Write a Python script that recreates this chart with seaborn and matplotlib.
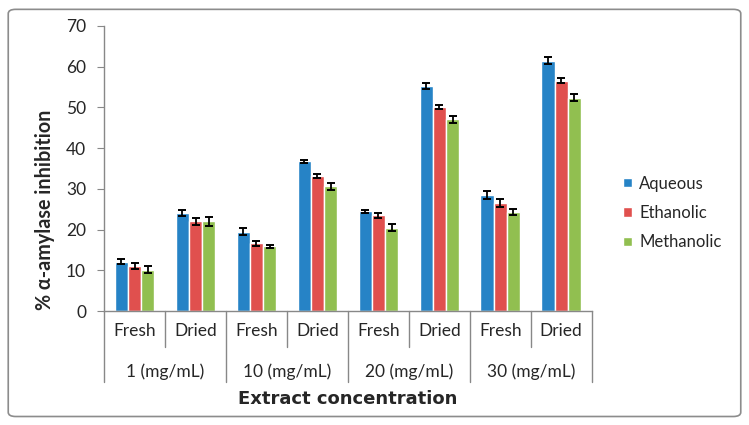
import numpy as np
import pandas as pd
import seaborn as sns
import matplotlib
matplotlib.use("Agg")
import matplotlib.pyplot as plt
from matplotlib.patches import FancyBboxPatch

# data
concentrations = ["1 (mg/mL)", "10 (mg/mL)", "20 (mg/mL)", "30 (mg/mL)"]
states = ["Fresh", "Dried"]
solvents = ["Aqueous", "Ethanolic", "Methanolic"]

aqueous = [12.1, 24.0, 19.5, 36.8, 24.5, 55.3, 28.5, 61.5]
ethanolic = [11.1, 22.0, 16.6, 33.1, 23.5, 50.1, 26.6, 56.6]
methanolic = [10.2, 22.0, 15.9, 30.6, 20.5, 47.1, 24.3, 52.4]

aqueous_err = [0.6, 0.7, 0.8, 0.4, 0.3, 0.7, 0.9, 0.8]
ethanolic_err = [0.7, 0.9, 0.5, 0.5, 0.6, 0.5, 1.0, 0.6]
methanolic_err = [0.9, 1.0, 0.4, 0.8, 0.9, 0.9, 0.7, 0.8]

colors = ["#2683C6", "#E0504E", "#91BF50"]

# long-form table
cats = [f"{c}|{s}" for c in concentrations for s in states]
rows = []
for solvent, vals, errs in zip(solvents,
                               [aqueous, ethanolic, methanolic],
                               [aqueous_err, ethanolic_err, methanolic_err]):
    for cat, v, e in zip(cats, vals, errs):
        rows.append({"cat": cat, "solvent": solvent, "value": v, "err": e})
df = pd.DataFrame(rows)

sns.set_style("white")
plt.rcParams["font.family"] = ["Lato", "DejaVu Sans"]

fig = plt.figure(figsize=(7.49, 4.25), dpi=100)
ax = fig.add_axes([0.139, 0.268, 0.651, 0.671])

sns.barplot(data=df, x="cat", y="value", hue="solvent", order=cats,
            hue_order=solvents, palette=colors, width=0.65, errorbar=None,
            saturation=1, ax=ax)

# error bars on top of each bar
for container, solvent in zip(ax.containers, solvents):
    sub = df[df["solvent"] == solvent].set_index("cat").loc[cats]
    xs = [p.get_x() + p.get_width() / 2 for p in container.patches]
    ax.errorbar(xs, sub["value"], yerr=sub["err"], fmt="none",
                ecolor="black", elinewidth=1.3, capsize=3, capthick=1.4)

ax.set_ylim(0, 70)
ax.set_yticks(range(0, 71, 10))
ax.set_xlim(-0.5, len(cats) - 0.5)
ax.tick_params(axis="y", labelsize=12.5, length=5, color="#888888",
               direction="out", left=True, pad=8)
ax.tick_params(axis="x", length=0, labelsize=12.5, pad=14)
ax.set_xticks(range(len(cats)))
ax.set_xticklabels([c.split("|")[1] for c in cats])
for lab in ax.get_xticklabels():
    lab.set_verticalalignment("center")

for side in ["top", "right"]:
    ax.spines[side].set_visible(False)
for side in ["left", "bottom"]:
    ax.spines[side].set_color("#888888")
    ax.spines[side].set_linewidth(1.0)

# two level category axis
trans = ax.get_xaxis_transform()
for i in range(len(cats) + 1):
    edge = i - 0.5
    depth = -0.25 if i % 2 == 0 else -0.126
    ax.plot([edge, edge], [0, depth], transform=trans, color="#888888",
            lw=1.0, clip_on=False)
for j, conc in enumerate(concentrations):
    ax.text(2 * j + 0.5, -0.214, conc, transform=trans, ha="center",
            va="center", fontsize=12.5)

ax.set_xlabel("Extract concentration", fontsize=13, fontweight="bold",
              family="DejaVu Sans", va="center")
ax.xaxis.set_label_coords(0.5, -0.309)
ax.set_ylabel("% α-amylase inhibition", fontsize=14.2, fontweight="bold",
              family=["Lato", "DejaVu Sans"])
ax.yaxis.set_label_coords(-0.1, 0.354)

leg = ax.legend(title=None, frameon=False, fontsize=12,
                loc="center left", bbox_to_anchor=(0.832, 0.499),
                bbox_transform=fig.transFigure, borderpad=0,
                borderaxespad=0, handlelength=0.5, handleheight=0.5,
                handletextpad=0.45, labelspacing=0.8)

# rounded frame around the whole chart
frame = FancyBboxPatch((0.011, 0.02), 0.978, 0.958,
                       boxstyle="round,pad=0,rounding_size=0.01",
                       transform=fig.transFigure, fill=False,
                       edgecolor="#8C8C8C", lw=1.2)
fig.patches.append(frame)

fig.savefig("out.png", dpi=100)
